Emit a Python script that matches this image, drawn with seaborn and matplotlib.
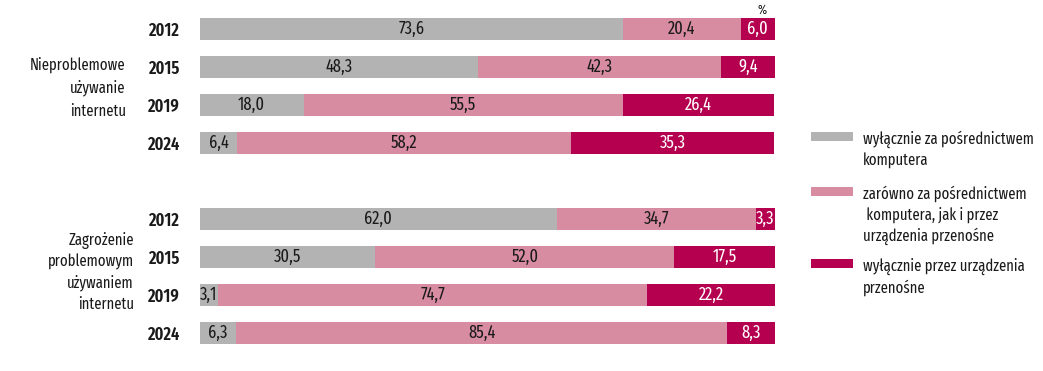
import numpy as np
import pandas as pd
import matplotlib
matplotlib.use("Agg")
import matplotlib.pyplot as plt
from matplotlib.patches import Rectangle
import seaborn as sns

# data (percent)
years = ["2012", "2015", "2019", "2024"]
groups = ["Nieproblemowe\nużywanie\ninternetu", "Zagrożenie\nproblemowym\nużywaniem\ninternetu"]
computer_only = [73.6, 48.3, 18.0, 6.4, 62.0, 30.5, 3.1, 6.3]
both = [20.4, 42.3, 55.5, 58.2, 34.7, 52.0, 74.7, 85.4]
mobile_only = [6.0, 9.4, 26.4, 35.3, 3.3, 17.5, 22.2, 8.3]
legend_labels = [
    "wyłącznie za pośrednictwem\nkomputera",
    "zarówno za pośrednictwem\n komputera, jak i przez\nurządzenia przenośne",
    "wyłącznie przez urządzenia\nprzenośne",
]

colors = ["#b3b3b3", "#d88ca1", "#b4004e"]
text_dark = "#1a1a1a"

sns.set_theme(style="white")
plt.rcParams["font.family"] = ["Fira Sans Extra Condensed", "Fira Sans Condensed",
                               "Liberation Sans Narrow", "DejaVu Sans"]

rows = [f"a{y}" for y in years] + [f"b{y}" for y in years]
order = rows[:4] + ["gap"] + rows[4:]
df = pd.DataFrame({
    "row": rows,
    "computer": computer_only,
    "both": both,
    "mobile": mobile_only,
})
df["c1"] = df["computer"]
df["c2"] = df["computer"] + df["both"]
df["c3"] = df["c2"] + df["mobile"]

W, H = 1043, 371
fs = 12.8      # numbers and years
fs_txt = 11.5  # group labels and legend
fig = plt.figure(figsize=(W / 100, H / 100), dpi=100)
ax = fig.add_axes([200 / W, 19 / H, 575 / W, 342 / H])

# stacked bars drawn back to front from cumulative totals
for col, c in zip(["c3", "c2", "c1"], colors[::-1]):
    sns.barplot(data=df, x=col, y="row", order=order, orient="h",
                color=c, width=0.58, errorbar=None, ax=ax,
                saturation=1, linewidth=0)

for i, r in df.iterrows():
    ypos = order.index(r["row"])
    left = 0
    for val, c, tc in zip([r["computer"], r["both"], r["mobile"]], colors,
                          [text_dark, text_dark, "white"]):
        ax.text(left + val / 2, ypos, f"{val:.1f}".replace(".", ","),
                ha="center", va="center", fontsize=fs, color=tc)
        left += val

ax.set_xlim(0, 100)
ax.set_ylim(len(order) - 0.5, -0.5)
ax.set_xlabel("")
ax.set_ylabel("")
ax.set_xticks([])
ax.set_yticks([order.index(r) for r in rows])
ax.set_yticklabels(years * 2, fontsize=fs, fontweight=600, color=text_dark)
ax.tick_params(axis="y", length=0, pad=15)
sns.despine(ax=ax, left=True, bottom=True)

# group labels
ax.text(-0.129, 1 - 2.05 / len(order), groups[0], transform=ax.transAxes,
        ha="right", va="center", fontsize=fs_txt, color=text_dark, linespacing=1.55)
ax.text(-0.115, 1 - 6.9 / len(order), groups[1], transform=ax.transAxes,
        ha="right", va="center", fontsize=fs_txt, color=text_dark, linespacing=1.37)

# unit marker above the bar ends
fig.text(762 / W, 1 - 16 / H, "%", ha="center", va="bottom",
         fontsize=9.5, color=text_dark)

# legend drawn by hand so the swatch sits on the first text line
leg_y = [137, 191.5, 263.5]
for lab, c, yc in zip(legend_labels, colors, leg_y):
    fig.add_artist(Rectangle((811 / W, 1 - (yc + 4.5) / H), 42 / W, 9 / H,
                             transform=fig.transFigure, color=c, lw=0))
    fig.text(863 / W, 1 - (yc - 6) / H, lab, ha="left", va="top",
             fontsize=fs_txt, color=text_dark, linespacing=1.35)

fig.savefig("out.png", dpi=100)
